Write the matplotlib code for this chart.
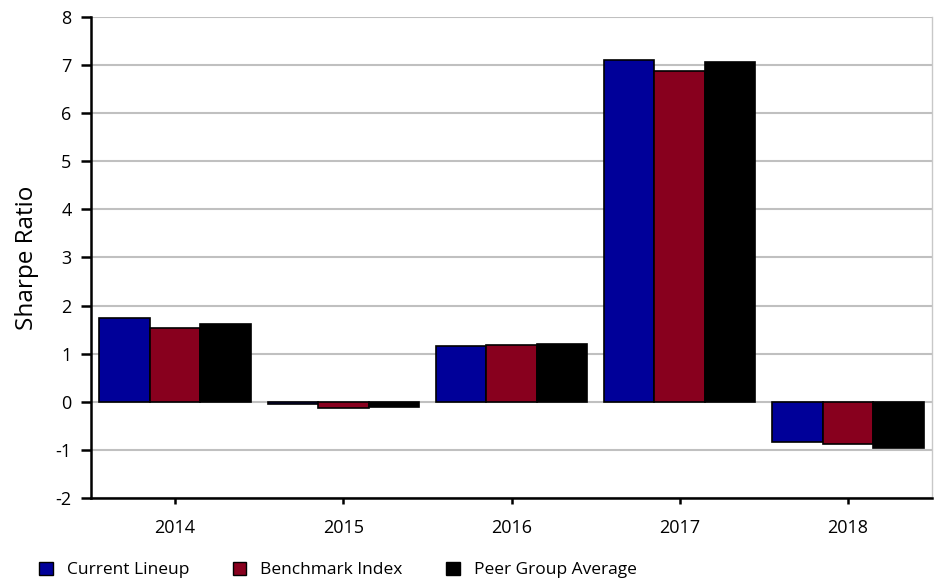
import matplotlib
matplotlib.use("Agg")
import matplotlib.pyplot as plt
import numpy as np
from matplotlib.patches import Patch

years = ["2014", "2015", "2016", "2017", "2018"]
current_lineup = [1.75, -0.04, 1.17, 7.10, -0.84]
benchmark_index = [1.54, -0.12, 1.19, 6.87, -0.87]
peer_group_avg = [1.61, -0.10, 1.21, 7.07, -0.97]
series_names = ["Current Lineup", "Benchmark Index", "Peer Group Average"]
colors = ["#000099", "#88001E", "#000000"]

plt.rcParams['font.family'] = ['Open Sans', 'DejaVu Sans']
plt.rcParams['axes.unicode_minus'] = False

fig = plt.figure(figsize=(9.38, 5.84), dpi=100)
ax = fig.add_axes([91/938, 1-498/584, (932-91)/938, (498-17)/584])

x = np.arange(len(years))
w = 0.3
for i, (vals, c) in enumerate(zip([current_lineup, benchmark_index, peer_group_avg], colors)):
    ax.bar(x + (i-1)*w, vals, width=w, color=c, edgecolor="black", linewidth=1.2, zorder=3)

ax.set_xlim(-0.5, len(years)-0.5)
ax.set_ylim(-2, 8)
ax.set_yticks(range(-2, 9))
ax.set_xticks(x)
ax.set_xticklabels(years)
ax.yaxis.grid(True, color="#c0c0c0", linewidth=1.5, zorder=0)
ax.set_axisbelow(True)
ax.spines['top'].set_visible(False)
ax.spines['right'].set_color("#c8c8c8")
ax.spines['right'].set_linewidth(1)
ax.spines['left'].set_linewidth(1.8)
ax.spines['bottom'].set_linewidth(1.8)
ax.tick_params(axis='y', labelsize=13, width=1.8, length=7, pad=7, color="black")
ax.tick_params(axis='x', labelsize=13, width=1.8, length=4, pad=11, color="black")
ax.set_ylabel("Sharpe Ratio", fontsize=17.5, labelpad=12)

handles = [Patch(facecolor=c, edgecolor="black", linewidth=1) for c in colors]
fig.legend(handles, series_names, loc="center left", bbox_to_anchor=(39/938, 1-570/584),
           ncol=3, frameon=False, fontsize=12.5, handlelength=0.8, handleheight=0.8,
           columnspacing=2.5, handletextpad=0.8, borderpad=0, borderaxespad=0)

fig.savefig("out.png", dpi=100)
